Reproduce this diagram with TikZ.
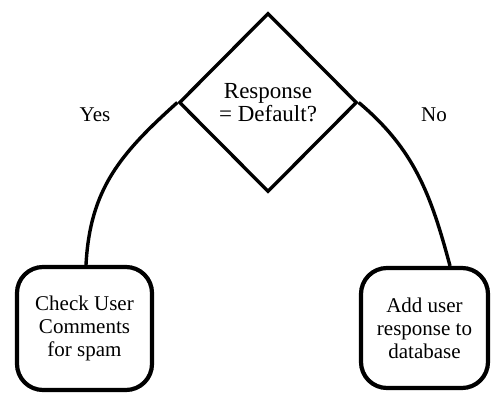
\documentclass[tikz,border=0pt]{standalone}
\usepackage{fontspec}
\setmainfont{Liberation Serif}
\usetikzlibrary{shapes.geometric,calc}
\begin{document}
\begin{tikzpicture}[x=1pt,y=-1pt,
  decision/.style={draw,diamond,line width=3.4pt,inner sep=0pt,minimum width=178pt,minimum height=179pt,align=center,font=\fontsize{23}{23}\selectfont},
  actbox/.style={draw,rounded corners=26pt,line width=4.2pt,inner sep=0pt,align=center,font=\fontsize{21}{23}\selectfont},
  link/.style={line width=3.4pt},
  lbl/.style={font=\fontsize{21}{23}\selectfont}]
\fill[white] (0,0) rectangle (491,394);
\useasboundingbox (0,0) rectangle (491,394);
\node[decision] (d) at (268,102.5) {Response\\= Default?};
\node[actbox,minimum width=135pt,minimum height=123pt] (l) at (84.5,328.5) {Check User\\Comments\\for spam};
\node[actbox,minimum width=127pt,minimum height=120pt] (r) at (424.5,328) {Add user\\response to\\database};
\draw[link] (d.west) to[out=222,in=87,looseness=1.05] ([xshift=1.5pt]l.north);
\draw[link] (d.east) to[out=-40,in=105,looseness=1.0] ([xshift=25.5pt]r.north);
\node[lbl] (yes) at (95,115) {Yes};
\node[lbl] (no) at (434,115) {No};
\end{tikzpicture}
\end{document}
